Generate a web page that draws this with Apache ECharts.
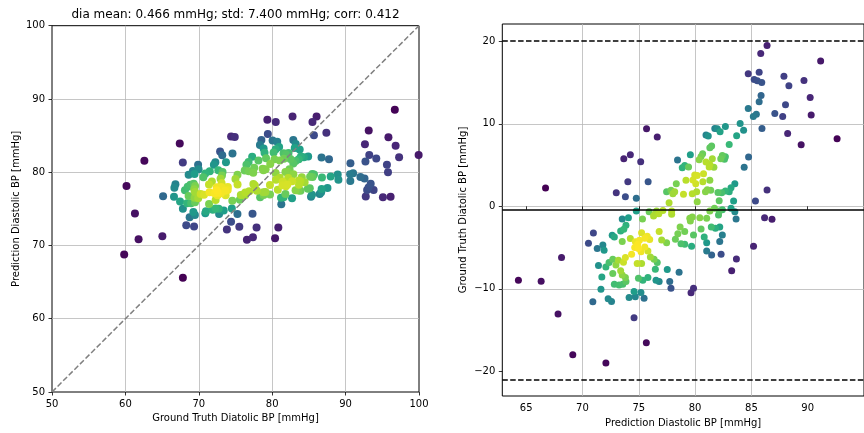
<!DOCTYPE html>
<html>
<head>
<meta charset="utf-8">
<script src="https://cdn.jsdelivr.net/npm/echarts@6/dist/echarts.min.js"></script>
<style>
  html, body { margin: 0; padding: 0; background: #fff; }
  #chart { width: 864px; height: 433px; }
</style>
</head>
<body>
<div id="chart"></div>
<script>
// Diastolic BP: per-sample mean of (ground truth, prediction) in mmHg
const meanBP = [
  64.31, 66.33, 66.72, 67.83, 68.14, 69.14, 72.08, 75.67, 74.58, 75.69,
  76.64, 73.67, 74.25, 75.17, 74.03, 75.83, 73.00, 73.81, 74.78, 70.97,
  70.53, 71.31, 71.81, 71.92, 72.64, 72.83, 73.53, 74.08, 73.39, 73.67,
  73.86, 73.53, 74.25, 74.78, 75.33, 75.92, 76.31, 76.58, 76.78, 75.06,
  75.53, 75.75, 75.97, 75.25, 74.64, 74.97, 75.53, 75.81, 76.03, 76.36,
  76.64, 74.36, 73.81, 73.64, 73.19, 72.69, 72.97, 72.36, 72.08, 71.42,
  74.86, 75.25, 72.69, 73.39, 73.53, 73.81, 73.86, 73.58, 71.72, 72.83,
  73.25, 74.97, 75.36, 75.81, 76.53, 76.81, 74.14, 74.58, 74.69, 75.19,
  75.47, 72.28, 72.58, 71.64, 70.92, 76.47, 76.44, 77.14, 76.81, 77.03,
  77.47, 77.92, 77.92, 79.53, 79.58, 79.75, 80.42, 81.03, 81.31, 81.72,
  82.14, 82.42, 83.19, 83.53, 82.08, 83.64, 86.17, 86.83, 78.67, 79.08,
  78.47, 78.25, 78.75, 79.08, 79.69, 79.86, 80.53, 80.81, 81.44, 81.81,
  82.19, 82.42, 82.19, 81.03, 81.03, 81.47, 82.31, 83.67, 83.25, 85.19,
  77.53, 78.58, 77.75, 77.86, 79.86, 79.64, 77.69, 78.44, 79.58, 80.36,
  80.53, 80.67, 80.97, 81.17, 81.31, 81.47, 81.53, 80.97, 81.31, 81.25,
  81.67, 82.42, 82.69, 82.28, 82.61, 79.08, 79.42, 78.86, 79.97, 80.19,
  79.81, 80.75, 79.19, 81.31, 80.69, 80.06, 78.33, 82.69, 83.03, 82.36,
  83.19, 81.08, 80.92, 81.39, 78.19, 78.03, 77.86, 77.47, 80.14, 78.97,
  79.75, 82.03, 80.19, 82.14, 83.42, 85.36, 86.39, 83.53, 84.36, 84.75,
  83.03, 83.69, 82.69, 81.75, 81.97, 82.22, 84.31, 84.00, 85.94, 85.17,
  85.44, 84.72, 85.69, 85.86, 86.39, 85.83, 84.72, 85.69, 85.25, 85.53,
  85.92, 87.89, 88.33, 89.67, 90.22, 90.31, 88.22, 89.42, 91.15, 92.61,
  88.03, 87.08, 87.78, 74.90, 75.20, 74.70
];

// Diastolic BP: per-sample difference (ground truth - prediction) in mmHg
const diffBP = [
  -8.95, -9.07, 2.22, -13.06, -6.21, -17.98, -18.99, -16.53, -13.51, 9.40,
  8.39, 5.77, 6.25, 5.40, 2.98, 2.98, 1.65, 1.17, 0.97, -3.23,
  -4.48, -5.12, -4.68, -5.32, -3.51, -3.71, -1.53, -1.37, -2.98, -2.78,
  -2.30, -4.27, -3.91, -0.56, -1.53, -0.65, -1.17, -0.56, -0.89, -4.11,
  -3.87, -3.63, -4.03, -3.19, -5.00, -5.12, -4.92, -5.40, -6.13, -6.41,
  -6.81, -5.81, -6.21, -6.77, -6.53, -6.41, -7.10, -6.81, -7.34, -7.18,
  -6.94, -6.94, -8.15, -7.82, -8.31, -8.63, -9.11, -9.44, -8.55, -9.44,
  -9.52, -8.71, -8.95, -8.63, -8.95, -9.11, -11.05, -10.32, -10.97, -10.44,
  -11.13, -11.21, -11.53, -10.04, -11.57, -7.62, -0.97, -0.52, -3.06, -4.07,
  -4.40, -0.56, -0.97, -1.45, -1.77, -1.29, -1.37, -1.45, -0.56, -0.24,
  -0.56, -0.40, -0.24, -0.65, -1.05, -1.53, -1.37, -1.57, -2.50, -3.06,
  -3.31, -3.99, -4.52, -4.60, -4.84, -3.47, -2.74, -3.71, -2.50, -2.66,
  -2.50, -3.47, -4.27, -4.40, -5.40, -5.89, -5.81, -6.37, -7.82, -4.84,
  -7.66, -7.98, -9.11, -9.92, -9.92, -10.48, 0.44, 5.60, 6.25, 5.65,
  6.05, 6.37, 8.63, 8.51, 7.10, 7.30, 5.77, 5.36, 5.08, 4.76,
  4.72, 6.17, 6.01, 5.77, 5.69, 4.96, 4.76, 4.68, 3.79, 3.75,
  3.19, 3.95, 3.15, 3.15, 2.98, 2.74, 2.74, 1.85, 1.77, 1.65,
  2.26, 2.02, 1.77, 1.94, 1.77, 1.53, 1.94, 1.77, 1.77, 1.45,
  1.53, 1.69, 0.56, 0.69, 0.65, 0.65, 1.98, 2.74, 4.72, 5.97,
  7.50, 8.55, 9.68, 9.44, 9.40, 9.03, 9.23, 10.04, 9.44, 10.89,
  11.17, 11.85, 12.66, 13.43, 19.48, 18.51, 16.05, 16.25, 15.36, 15.20,
  15.00, 15.77, 14.60, 15.24, 13.19, 11.05, 8.83, 7.46, 17.60, 8.19,
  12.30, 11.25, 10.89, -4.60, -5.50, -4.30
];

// Bland-Altman reference lines: upper limit, mean difference, lower limit
const limitUpper = 20.1;
const meanDiff = -0.47;
const limitLower = -21.0;

const titleText = 'dia mean: 0.466 mmHg; std: 7.400 mmHg; corr: 0.412';
const leftTicks = [50, 60, 70, 80, 90, 100];
const rightXTicks = [65, 70, 75, 80, 85, 90];
const rightYTicks = [-20, -10, 0, 10, 20];
const identityLine = [[50, 50], [100, 100]];

// Per-sample ground truth and prediction
const groundTruth = meanBP.map((m, i) => m + diffBP[i] / 2);
const prediction = meanBP.map((m, i) => m - diffBP[i] / 2);

// Gaussian KDE (Scott bandwidth) for point colouring
function kdeDensity(xs, ys) {
  const n = xs.length;
  const mx = xs.reduce((a, b) => a + b, 0) / n;
  const my = ys.reduce((a, b) => a + b, 0) / n;
  let sxx = 0, syy = 0, sxy = 0;
  for (let i = 0; i < n; i++) {
    const dx = xs[i] - mx, dy = ys[i] - my;
    sxx += dx * dx; syy += dy * dy; sxy += dx * dy;
  }
  sxx /= (n - 1); syy /= (n - 1); sxy /= (n - 1);
  const f2 = Math.pow(n, -1 / 3);
  const a = sxx * f2, c = syy * f2, b = sxy * f2;
  const det = a * c - b * b;
  const ia = c / det, ic = a / det, ib = -b / det;
  return xs.map((x, i) => {
    let s = 0;
    for (let j = 0; j < n; j++) {
      const dx = x - xs[j], dy = ys[i] - ys[j];
      s += Math.exp(-0.5 * (ia * dx * dx + 2 * ib * dx * dy + ic * dy * dy));
    }
    return s;
  });
}

const density = kdeDensity(groundTruth, prediction);
const order = density.map((d, i) => i).sort((p, q) => density[p] - density[q]);
const leftData = order.map(i => [groundTruth[i], prediction[i], density[i]]);
const rightData = order.map(i => [meanBP[i], diffBP[i], density[i]]);
const dMin = Math.min(...density), dMax = Math.max(...density);

const viridis = ['#440154', '#482878', '#3e4989', '#31688e', '#26828e',
                 '#1f9e89', '#35b779', '#6ece58', '#b5de2b', '#fde725'];

const FONT = 'DejaVu Sans';
const minusFmt = v => (v < 0 ? '\u2212' + Math.abs(v) : String(v));

function axisCommon(extra) {
  return Object.assign({
    type: 'value',
    axisLine: { show: false },
    axisTick: { show: true, inside: false, length: 3.5, lineStyle: { color: '#000', width: 0.8 } },
    axisLabel: { color: '#000', fontSize: 10, fontFamily: FONT, margin: 7 },
    splitLine: { show: true, showMinLine: false, showMaxLine: false,
                 lineStyle: { color: '#b8b8b8', width: 0.8 } },
    nameLocation: 'middle',
    nameTextStyle: { color: '#000', fontSize: 10, fontFamily: FONT }
  }, extra);
}

const chart = echarts.init(document.getElementById('chart'), null, { renderer: 'canvas' });

chart.setOption({
  animation: false,
  backgroundColor: '#fff',
  grid: [
    { left: 52, top: 25.7, width: 367, height: 366.3, show: true,
      borderColor: '#000', borderWidth: 1, backgroundColor: 'transparent' },
    { left: 502.3, top: 24, width: 385.4, height: 373, show: true,
      borderColor: '#000', borderWidth: 1, backgroundColor: 'transparent' }
  ],
  xAxis: [
    axisCommon({ gridIndex: 0, min: leftTicks[0], max: leftTicks[leftTicks.length - 1], interval: 10,
      name: 'Ground Truth Diatolic BP [mmHg]', nameGap: 20 }),
    axisCommon({ gridIndex: 1, min: 62.88, max: 95, splitNumber: 6,
      name: 'Prediction Diastolic BP [mmHg]', nameGap: 22,
      axisTick: { show: true, inside: false, length: 3.5, customValues: rightXTicks,
                  lineStyle: { color: '#000', width: 0.8 } },
      axisLabel: { color: '#000', fontSize: 10, fontFamily: FONT, margin: 7,
                   customValues: rightXTicks } })
  ],
  yAxis: [
    axisCommon({ gridIndex: 0, min: leftTicks[0], max: leftTicks[leftTicks.length - 1], interval: 10,
      name: 'Prediction Diastolic BP [mmHg]', nameGap: 31 }),
    axisCommon({ gridIndex: 1, min: -22.98, max: 22.09, splitNumber: 5,
      name: 'Ground Truth Diatolic BP [mmHg]', nameGap: 34,
      axisTick: { show: true, inside: false, length: 3.5, customValues: rightYTicks,
                  lineStyle: { color: '#000', width: 0.8 } },
      axisLabel: { color: '#000', fontSize: 10, fontFamily: FONT, margin: 7,
                   customValues: rightYTicks, formatter: minusFmt } })
  ],
  visualMap: {
    show: false, type: 'continuous', dimension: 2, seriesIndex: [0, 1],
    min: dMin, max: dMax, inRange: { color: viridis }
  },
  graphic: [{
    type: 'text', x: 235.5, y: 15,
    style: { text: titleText, fill: '#000', font: '12px "DejaVu Sans"',
             textAlign: 'center', textVerticalAlign: 'middle' }
  }],
  series: [
    {
      type: 'scatter', xAxisIndex: 0, yAxisIndex: 0, data: leftData,
      symbolSize: 8, clip: true, itemStyle: { opacity: 1 }, z: 3
    },
    {
      type: 'scatter', xAxisIndex: 1, yAxisIndex: 1, data: rightData,
      symbolSize: 7, clip: true, itemStyle: { opacity: 1 }, z: 3,
      markLine: {
        silent: true, symbol: ['none', 'none'], label: { show: false },
        animation: false,
        data: [
          { yAxis: limitUpper, lineStyle: { color: '#000', width: 1.5, type: [5.5, 2.4] } },
          { yAxis: meanDiff, lineStyle: { color: '#000', width: 1.5, type: 'solid' } },
          { yAxis: limitLower, lineStyle: { color: '#000', width: 1.5, type: [5.5, 2.4] } }
        ]
      }
    },
    {
      type: 'line', xAxisIndex: 0, yAxisIndex: 0, data: identityLine,
      symbol: 'none', silent: true, z: 5,
      lineStyle: { color: '#808080', width: 1.5, type: [5.5, 2.4] }
    }
  ]
});
</script>
</body>
</html>
